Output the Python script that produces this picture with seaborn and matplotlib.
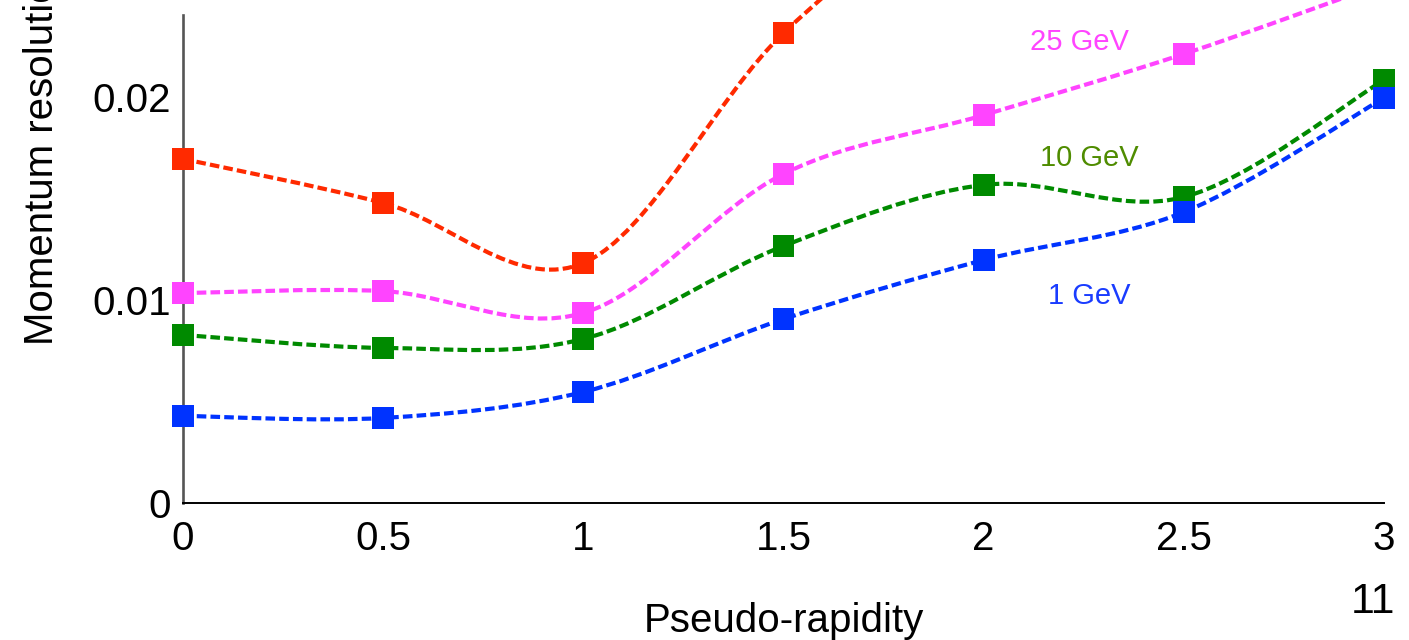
import numpy as np
import pandas as pd
import matplotlib
matplotlib.use("Agg")
import matplotlib.pyplot as plt
from matplotlib.path import Path
from matplotlib.patches import PathPatch
import seaborn as sns

# ---- data ----
eta = [0.0, 0.5, 1.0, 1.5, 2.0, 2.5, 3.0]
res_1gev = [0.00429, 0.00419, 0.00547, 0.00906, 0.01197, 0.01433, 0.01995]
res_10gev = [0.00828, 0.00764, 0.00808, 0.01266, 0.01567, 0.01507, 0.02084]
res_25gev = [0.01034, 0.01044, 0.00936, 0.01621, 0.01911, 0.02212, 0.02560]
res_100gev = [0.01695, 0.01478, 0.01182, 0.02315, 0.03050, 0.03400, 0.03700]

series_names = ["100 GeV", "25 GeV", "10 GeV", "1 GeV"]
series_vals = [res_100gev, res_25gev, res_10gev, res_1gev]
series_colors = ["#ff2a00", "#ff44ff", "#008a00", "#0033ff"]

label_texts = ["25 GeV", "10 GeV", "1 GeV"]
label_pos_x = [2.24, 2.265, 2.263]
label_pos_y = [0.02271, 0.01700, 0.01020]
label_colors = ["#ff44ff", "#4f8c00", "#1a3cff"]

x_ticks = [0, 0.5, 1, 1.5, 2, 2.5, 3]
x_ticklabels = ["0", "0.5", "1", "1.5", "2", "2.5", "3"]
y_ticks = [0, 0.01, 0.02]
y_ticklabels = ["0", "0.01", "0.02"]

df = pd.DataFrame({
    "eta": np.tile(eta, len(series_names)),
    "res": np.concatenate(series_vals),
    "series": np.repeat(series_names, len(eta)),
})

sns.set_theme(style="white")
plt.rcParams["font.family"] = ["Liberation Sans", "DejaVu Sans"]

fig = plt.figure(figsize=(14.09, 6.40), dpi=100)
W, H = 1409, 640
left, right, bottom, top = 183, 1384, 503, 15
ax = fig.add_axes([left / W, 1 - bottom / H, (right - left) / W, (bottom - top) / H])

ax.set_xlim(0, 3)
ax.set_ylim(0, (bottom - top) / 20300)


def smooth_path(xs, ys):
    # Catmull-Rom style smooth curve through the data points (cubic Bezier segments)
    pts = np.column_stack([xs, ys]).astype(float)
    ext = np.vstack([pts[0], pts, pts[-1]])
    verts = [tuple(pts[0])]
    codes = [Path.MOVETO]
    for i in range(len(pts) - 1):
        p0, p1, p2, p3 = ext[i], ext[i + 1], ext[i + 2], ext[i + 3]
        c1 = p1 + (p2 - p0) / 6.0
        c2 = p2 - (p3 - p1) / 6.0
        verts += [tuple(c1), tuple(c2), tuple(p2)]
        codes += [Path.CURVE4] * 3
    return Path(verts, codes)


for vals, col in zip(series_vals, series_colors):
    patch = PathPatch(smooth_path(eta, vals), facecolor="none", edgecolor=col,
                      lw=3.0, linestyle=(0, (2.3, 1.0)), clip_on=False, zorder=2.6,
                      capstyle="butt")
    ax.add_patch(patch)

sns.scatterplot(data=df, x="eta", y="res", hue="series", hue_order=series_names,
                palette=series_colors, marker="s", s=245, linewidth=0,
                clip_on=False, zorder=4, legend=False, ax=ax)

for t, xx, yy, c in zip(label_texts, label_pos_x, label_pos_y, label_colors):
    ax.text(xx, yy, t, color=c, fontsize=21, ha="center", va="center")

ax.set_xticks(x_ticks)
ax.set_xticklabels(x_ticklabels)
ax.set_yticks(y_ticks)
ax.set_yticklabels(y_ticklabels)
ax.tick_params(axis="both", direction="inout", length=9, width=1.1, color="black",
               labelsize=29, labelcolor="black")
ax.tick_params(axis="x", pad=8)
ax.tick_params(axis="y", pad=4)
ax.set_xlabel("")
ax.set_ylabel("")

for s in ["top", "right"]:
    ax.spines[s].set_visible(False)
ax.spines["left"].set_color("#555555")
ax.spines["left"].set_linewidth(1.9)
ax.spines["bottom"].set_color("black")
ax.spines["bottom"].set_linewidth(1.4)

fig.text(784 / W, 1 - 632 / H, "Pseudo-rapidity", fontsize=29, ha="center",
         va="baseline", color="black")
fig.text(53 / W, 1 - 345 / H, "Momentum resolution", fontsize=29, rotation=90,
         rotation_mode="anchor", ha="left", va="baseline", color="black")
fig.text(1395 / W, 1 - 613 / H, "11", fontsize=31, ha="right", va="baseline",
         color="black")

fig.savefig("out.png", dpi=100)
